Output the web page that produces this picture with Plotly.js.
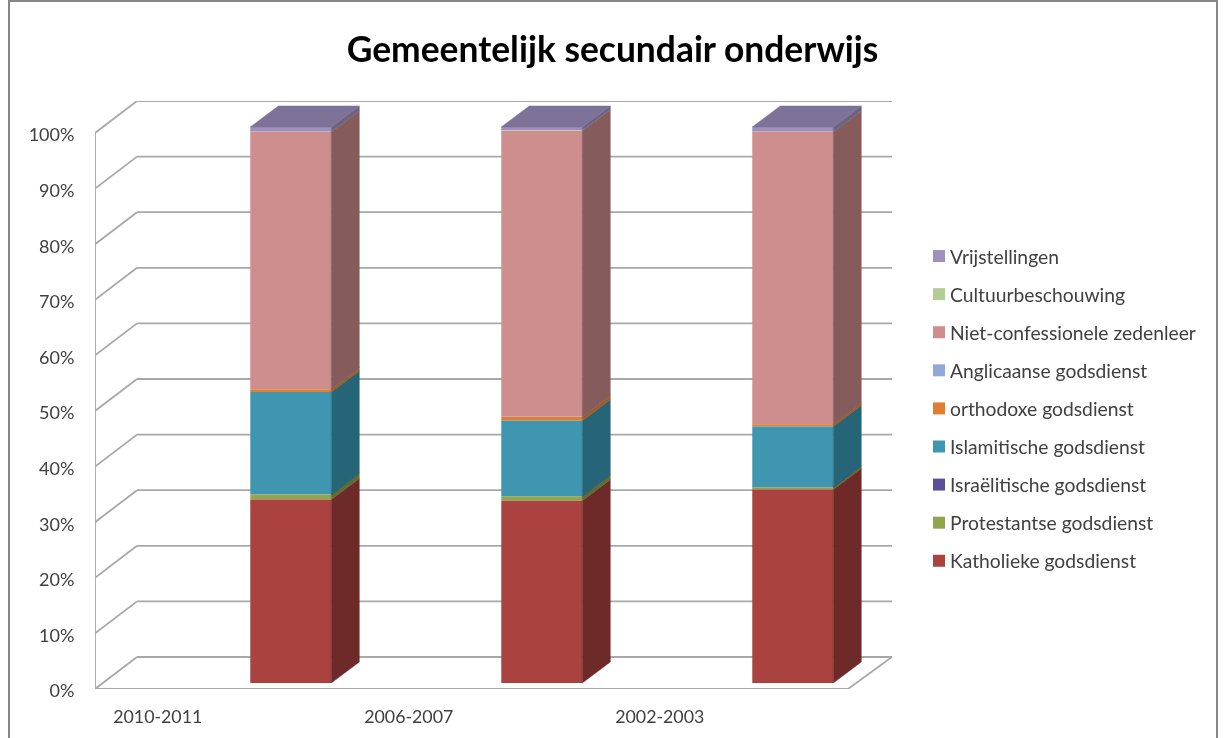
<!DOCTYPE html>
<html>
<head>
<meta charset="utf-8">
<script src="https://cdn.plot.ly/plotly-3.0.1.min.js"></script>
<style>html,body{margin:0;padding:0;background:#fff}#chart{width:1223px;height:738px;filter:blur(0.5px)}</style>
</head>
<body>
<div id="chart"></div>
<script>
// ---- data ----
const years = ["2010-2011", "2006-2007", "2002-2003"];
const katholieke   = [33.0, 32.8, 34.8];
const protestantse = [0.9, 0.8, 0.4];
const israelitische = [0.05, 0.05, 0.05];
const islamitische = [18.4, 13.5, 10.9];
const orthodoxe    = [0.5, 0.7, 0.4];
const anglicaanse  = [0.05, 0.05, 0.05];
const nietConf     = [46.2, 51.4, 52.5];
const cultuur      = [0.05, 0.05, 0.05];
const vrijstelling = [0.85, 0.65, 0.85];
const seriesNames = ["Katholieke godsdienst","Protestantse godsdienst","Israëlitische godsdienst","Islamitische godsdienst","orthodoxe godsdienst","Anglicaanse godsdienst","Niet-confessionele zedenleer","Cultuurbeschouwing","Vrijstellingen"];
const seriesValues = [katholieke, protestantse, israelitische, islamitische, orthodoxe, anglicaanse, nietConf, cultuur, vrijstelling];
const frontColors = ["#AA4340","#8FA64F","#5F4F99","#3F96B0","#E07F33","#92A9D6","#CE8E8E","#B4CC96","#A08FBD"];
const sideColors  = ["#6D2A28","#5E6E33","#3D3263","#256577","#A05A22","#5F6E8C","#855B5B","#75855F","#6E6283"];
const topColor = "#7E7299";
const pctTicks = [0,10,20,30,40,50,60,70,80,90,100];
const pctLabels = pctTicks.map(v => v + "%");

// ---- scene geometry (in axis units) ----
const slotPx = 251, pctPx = 5.56;
const xMax = 797 / slotPx, yMax = 588 / pctPx;
const wallDx = 42 / slotPx, wallDy = 32 / pctPx;      // depth of the floor
const barDx = 28 / slotPx, barDy = 21 / pctPx;        // depth of a bar
const barLift = 6 / pctPx;                            // bars stand inside the floor
const barCenter = i => i + 0.78, barWidth = 81 / slotPx;
const labelPos = years.map((_, i) => i + 0.25);

// ---- gridlines on the walls ----
const gline = (x0,y0,x1,y1) => ({type:"line",xref:"x",yref:"y",x0,y0,x1,y1,layer:"below",line:{color:"#a8a8a8",width:1.8}});
const shapes = [];
pctTicks.forEach(v => {
  shapes.push(gline(0, v, wallDx, v + wallDy));
  shapes.push(gline(wallDx, v + wallDy, xMax, v + wallDy));
});
shapes.push(gline(0, 0, 0, 100));
shapes.push(gline(0, 0, 3, 0));
shapes.push(gline(3, 0, xMax, wallDy));
// chart frame
shapes.push({type:"rect",xref:"paper",yref:"paper",
  x0:(9-95)/797,x1:(1217-95)/797,y0:(689-745)/588,y1:(689-1)/588,layer:"below",
  line:{color:"#868686",width:2},fillcolor:"rgba(0,0,0,0)"});

// ---- traces ----
const traces = [];
const cum = years.map(() => 0);
const sideTraces = [];
seriesValues.forEach((vals, s) => {
  const bases = cum.map(c => c + barLift);
  traces.push({type:"bar",name:seriesNames[s],x:years.map((_,i)=>barCenter(i)),y:vals,base:bases,width:barWidth,
    marker:{color:frontColors[s],line:{width:0}},legendgroup:"g"+s,hoverinfo:"name+y"});
  const sx = [], sy = [];
  vals.forEach((v,i) => {
    const xr = barCenter(i) + barWidth/2, b = bases[i];
    sx.push(xr, xr+barDx, xr+barDx, xr, xr, null);
    sy.push(b, b+barDy, b+v+barDy, b+v, b, null);
    cum[i] += v;
  });
  sideTraces.push({type:"scatter",mode:"lines",x:sx,y:sy,fill:"toself",fillcolor:sideColors[s],
    line:{color:sideColors[s],width:0.5},showlegend:false,hoverinfo:"skip"});
});
traces.reverse();   // legend reads from the top of the stack down
const tx = [], ty = [];
cum.forEach((c,i) => {
  const xl = barCenter(i)-barWidth/2, xr = barCenter(i)+barWidth/2, t = c + barLift;
  tx.push(xl, xr, xr+barDx, xl+barDx, xl, null);
  ty.push(t, t, t+barDy, t+barDy, t, null);
});
const topTrace = {type:"scatter",mode:"lines",x:tx,y:ty,fill:"toself",fillcolor:topColor,
  line:{color:topColor,width:0.5},showlegend:false,hoverinfo:"skip"};

const layout = {
  width:1223,height:738,
  margin:{l:95,r:1223-892,t:101,b:738-689,pad:0},
  paper_bgcolor:"#fff",plot_bgcolor:"rgba(0,0,0,0)",
  barmode:"overlay",
  font:{family:"Lato, sans-serif",color:"#404040",size:16},
  title:{text:"<b>Gemeentelijk secundair onderwijs</b>",xref:"container",yref:"container",
    x:612.5/1223,xanchor:"center",y:1-50/738,yanchor:"middle",font:{family:"Lato, sans-serif",size:35.4,color:"#000"}},
  xaxis:{range:[0,xMax],tickmode:"array",tickvals:labelPos,ticktext:years,showgrid:false,zeroline:false,showline:false,
    ticks:"outside",ticklen:12,tickcolor:"rgba(0,0,0,0)",tickfont:{size:17.8,color:"#404040"}},
  yaxis:{range:[0,yMax],tickmode:"array",tickvals:pctTicks,ticktext:pctLabels,showgrid:false,zeroline:false,showline:false,
    ticks:"outside",ticklen:16,tickcolor:"rgba(0,0,0,0)",ticklabelshift:2,tickfont:{size:18,color:"#404040"}},
  legend:{xref:"container",yref:"container",x:919/1223,xanchor:"left",y:1-237/738,yanchor:"top",
    traceorder:"grouped",tracegroupgap:10,font:{size:19.3,color:"#404040"},bgcolor:"rgba(0,0,0,0)"},
  shapes
};
Plotly.newPlot("chart",[...traces,...sideTraces,topTrace],layout,{displayModeBar:false,staticPlot:true}).then(() => {
  // legend text sits close to its swatch in the reference
  document.querySelectorAll(".legendtext").forEach(t => t.setAttribute("x", +t.getAttribute("x") - 9));
});
</script>
</body>
</html>
